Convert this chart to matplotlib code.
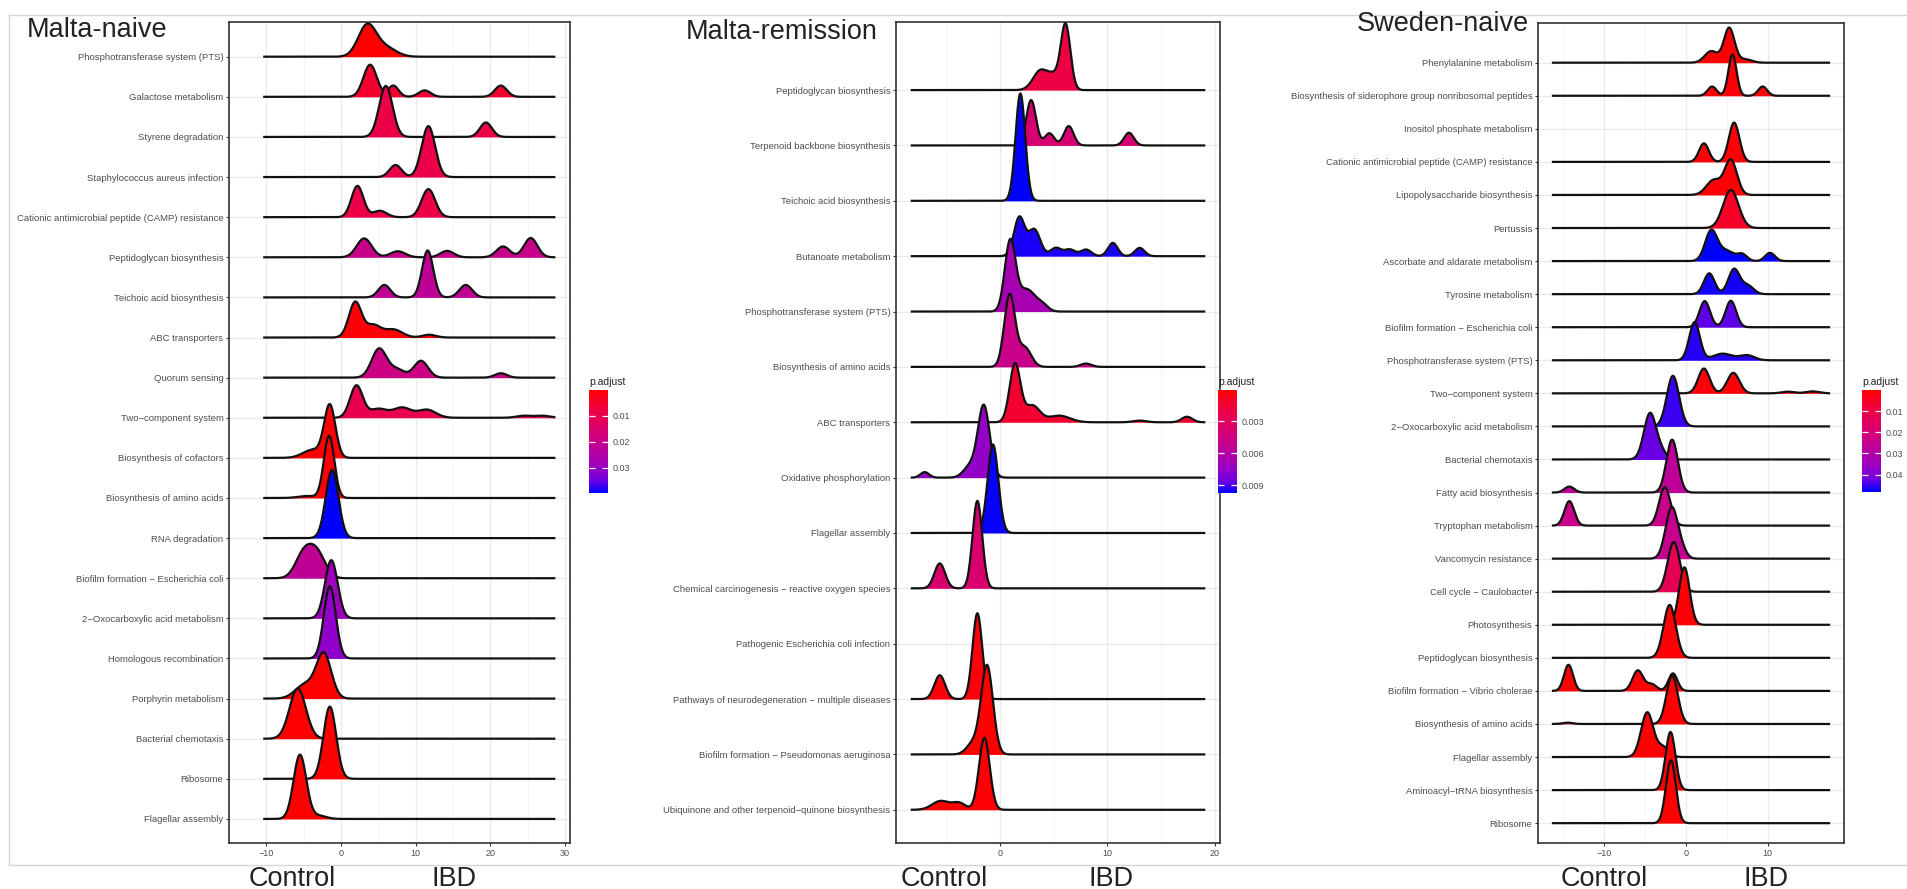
import numpy as np
import matplotlib
matplotlib.use("Agg")
import matplotlib.pyplot as plt
from matplotlib.colors import LinearSegmentedColormap, Normalize
from matplotlib.cm import ScalarMappable
from matplotlib.lines import Line2D

W, H = 1908, 889
plt.rcParams['font.family'] = ['Liberation Sans', 'DejaVu Sans']

# ---- Malta-naive -------------------------------------------------------
naive_paths = [
    "Phosphotransferase system (PTS)", "Galactose metabolism", "Styrene degradation",
    "Staphylococcus aureus infection", "Cationic antimicrobial peptide (CAMP) resistance",
    "Peptidoglycan biosynthesis", "Teichoic acid biosynthesis", "ABC transporters",
    "Quorum sensing", "Two\u2212component system", "Biosynthesis of cofactors",
    "Biosynthesis of amino acids", "RNA degradation", "Biofilm formation \u2212 Escherichia coli",
    "2\u2212Oxocarboxylic acid metabolism", "Homologous recombination", "Porphyrin metabolism",
    "Bacterial chemotaxis", "Ribosome", "Flagellar assembly",
]
naive_padj = [0.0002, 0.005, 0.0088, 0.009, 0.0085, 0.020, 0.022, 0.001, 0.019, 0.010,
              0.0008, 0.0006, 0.0398, 0.022, 0.029, 0.031, 0.0004, 0.0003, 0.0001, 0.0001]
# density modes: (log2FC, height in rows, spread)
naive_modes = [
    [(3.5, 0.78, 1.2), (6.0, 0.22, 1.4)],
    [(3.9, 0.8, 0.9), (7.0, 0.28, 0.7), (11.2, 0.16, 0.8), (21.4, 0.28, 0.8)],
    [(6.0, 1.27, 0.9), (19.4, 0.36, 0.8)],
    [(7.3, 0.3, 0.8), (11.7, 1.27, 0.9)],
    [(2.2, 0.78, 0.8), (5.2, 0.16, 0.9), (11.7, 0.7, 0.9)],
    [(3.1, 0.47, 1.0), (7.6, 0.15, 1.0), (14.2, 0.16, 0.9), (21.7, 0.27, 0.9), (25.4, 0.48, 0.9)],
    [(5.8, 0.31, 0.8), (11.6, 1.17, 0.75), (16.7, 0.31, 0.85)],
    [(1.9, 0.88, 0.85), (4.3, 0.3, 1.0), (7.0, 0.2, 1.2), (11.8, 0.07, 0.9)],
    [(5.1, 0.72, 1.0), (7.5, 0.2, 1.0), (10.7, 0.42, 0.95), (21.4, 0.11, 0.8)],
    [(2.06, 0.8, 0.85), (5.0, 0.22, 1.2), (8.2, 0.25, 1.2), (11.5, 0.2, 1.2),
     (24.5, 0.05, 1.0), (27.0, 0.05, 1.0)],
    [(-1.5, 1.3, 0.75), (-3.8, 0.2, 1.3)],
    [(-1.6, 1.55, 0.7), (-4.5, 0.05, 1.2)],
    [(-1.2, 1.7, 0.85)],
    [(-5.0, 0.6, 1.1), (-3.2, 0.6, 1.1)],
    [(-1.3, 1.45, 0.85)],
    [(-1.5, 1.8, 0.8)],
    [(-2.3, 1.1, 1.0), (-4.8, 0.35, 1.3)],
    [(-5.8, 1.25, 1.1)],
    [(-1.5, 1.8, 0.85)],
    [(-5.5, 1.6, 0.85), (-3.0, 0.08, 1.0)],
]

# ---- Malta-remission ---------------------------------------------------
remis_paths = [
    "Peptidoglycan biosynthesis", "Terpenoid backbone biosynthesis", "Teichoic acid biosynthesis",
    "Butanoate metabolism", "Phosphotransferase system (PTS)", "Biosynthesis of amino acids",
    "ABC transporters", "Oxidative phosphorylation", "Flagellar assembly",
    "Chemical carcinogenesis \u2212 reactive oxygen species", "Pathogenic Escherichia coli infection",
    "Pathways of neurodegeneration \u2212 multiple diseases",
    "Biofilm formation \u2212 Pseudomonas aeruginosa",
    "Ubiquinone and other terpenoid\u2212quinone biosynthesis",
]
remis_padj = [0.002, 0.0039, 0.0097, 0.0094, 0.0066, 0.0049, 0.0013, 0.0075, 0.0096, 0.0037,
              0.0005, 0.0004, 0.0001, 0.0002]
remis_modes = [
    [(6.1, 1.19, 0.45), (3.8, 0.36, 0.7), (5.0, 0.2, 0.5)],
    [(2.9, 0.82, 0.45), (4.6, 0.22, 0.45), (6.4, 0.35, 0.45), (12.0, 0.23, 0.45)],
    [(1.9, 1.94, 0.45)],
    [(1.8, 0.7, 0.5), (3.2, 0.48, 0.55), (5.2, 0.15, 0.5), (6.5, 0.12, 0.5), (8.0, 0.12, 0.5),
     (10.5, 0.24, 0.45), (13.0, 0.15, 0.45)],
    [(0.95, 1.25, 0.5), (2.5, 0.4, 0.8), (4.0, 0.1, 0.5)],
    [(0.9, 1.3, 0.5), (2.3, 0.35, 0.6), (8.0, 0.06, 0.5)],
    [(1.4, 1.05, 0.5), (3.0, 0.3, 0.7), (5.5, 0.12, 1.0), (13.0, 0.03, 0.6), (17.4, 0.1, 0.5)],
    [(-1.5, 1.3, 0.55), (-2.8, 0.2, 0.6), (-7.0, 0.1, 0.4)],
    [(-0.65, 1.6, 0.5)],
    [(-5.6, 0.45, 0.5), (-2.1, 1.58, 0.45)],
    [],
    [(-5.6, 0.43, 0.5), (-2.1, 1.55, 0.45)],
    [(-1.2, 1.6, 0.55), (-2.5, 0.2, 0.6)],
    [(-1.45, 1.3, 0.5), (-5.5, 0.16, 0.8), (-3.8, 0.12, 0.6)],
]

# ---- Sweden-naive ------------------------------------------------------
sweden_paths = [
    "Phenylalanine metabolism", "Biosynthesis of siderophore group nonribosomal peptides",
    "Inositol phosphate metabolism", "Cationic antimicrobial peptide (CAMP) resistance",
    "Lipopolysaccharide biosynthesis", "Pertussis", "Ascorbate and aldarate metabolism",
    "Tyrosine metabolism", "Biofilm formation \u2212 Escherichia coli",
    "Phosphotransferase system (PTS)", "Two\u2212component system",
    "2\u2212Oxocarboxylic acid metabolism", "Bacterial chemotaxis", "Fatty acid biosynthesis",
    "Tryptophan metabolism", "Vancomycin resistance", "Cell cycle \u2212 Caulobacter",
    "Photosynthesis", "Peptidoglycan biosynthesis", "Biofilm formation \u2212 Vibrio cholerae",
    "Biosynthesis of amino acids", "Flagellar assembly", "Aminoacyl\u2212tRNA biosynthesis",
    "Ribosome",
]
sweden_padj = [0.0005, 0.0008, 0.002, 0.001, 0.0008, 0.005, 0.048, 0.047, 0.043, 0.046,
               0.0012, 0.045, 0.0425, 0.027, 0.024, 0.025, 0.013, 0.001, 0.0009, 0.0007,
               0.0006, 0.0004, 0.0003, 0.0001]
sweden_modes = [
    [(5.3, 1.05, 0.65), (3.1, 0.35, 0.8), (7.3, 0.1, 0.8)],
    [(5.7, 1.25, 0.5), (3.2, 0.28, 0.55), (9.4, 0.28, 0.55)],
    [],
    [(2.2, 0.56, 0.6), (5.9, 1.19, 0.65)],
    [(5.5, 1.05, 0.75), (3.4, 0.45, 0.9)],
    [(5.5, 1.15, 0.95)],
    [(3.1, 0.92, 0.75), (5.0, 0.3, 0.9), (6.9, 0.2, 0.6), (10.3, 0.25, 0.6)],
    [(2.85, 0.63, 0.65), (5.9, 0.76, 0.7), (7.6, 0.25, 0.7)],
    [(2.3, 0.79, 0.65), (5.5, 0.8, 0.65)],
    [(1.05, 1.15, 0.65), (4.5, 0.2, 1.2), (7.5, 0.15, 0.9)],
    [(2.2, 0.75, 0.7), (5.8, 0.62, 0.75), (12.5, 0.05, 0.8), (15.5, 0.06, 0.8)],
    [(-1.6, 1.53, 0.75)],
    [(-4.4, 1.4, 0.75), (-3.0, 0.2, 0.6)],
    [(-1.7, 1.6, 0.7), (-14.3, 0.18, 0.6)],
    [(-14.3, 0.74, 0.6), (-2.6, 1.16, 0.7)],
    [(-1.75, 1.54, 0.75), (-0.5, 0.2, 0.6)],
    [(-1.5, 1.5, 0.75)],
    [(-0.2, 1.74, 0.65)],
    [(-2.0, 1.6, 0.75)],
    [(-14.4, 0.79, 0.55), (-5.9, 0.62, 0.65), (-4.2, 0.2, 0.6), (-1.6, 0.53, 0.55)],
    [(-1.7, 1.46, 0.7), (-14.5, 0.04, 0.6)],
    [(-4.75, 1.35, 0.75), (-2.8, 0.3, 0.7)],
    [(-1.9, 1.76, 0.6)],
    [(-1.85, 1.9, 0.6)],
]

CMAP = LinearSegmentedColormap.from_list("padj", [
    (0.0, "#FF0000"), (0.125, "#F40031"), (0.25, "#E80050"), (0.5, "#C90089"),
    (0.75, "#9A00C3"), (0.875, "#7300E0"), (1.0, "#0000FF")])
TXT = "#4D4D4D"


def px_axes(fig, x0, y0, x1, y1):
    return fig.add_axes([x0 / W, 1 - y1 / H, (x1 - x0) / W, (y1 - y0) / H])


def density(xs, modes):
    y = np.zeros_like(xs)
    for c, h, s in modes:
        y += h * np.exp(-0.5 * ((xs - c) / s) ** 2)
    return y


def draw_panel(fig, box, paths, padj, modes, xdata, xlim, xticks, ytop,
               cbox, cticks, clabels, title, title_xy, lab_x):
    ax = px_axes(fig, *box)
    n = len(paths)
    norm = Normalize(min(padj), max(padj))
    xs = np.linspace(xdata[0], xdata[1], 600)
    for i, (m, p) in enumerate(zip(modes, padj)):
        if not m:
            continue
        base = n - i
        d = density(xs, m)
        ax.fill_between(xs, base, base + d, color=CMAP(norm(p)), lw=0, zorder=3 + 2 * i)
        ax.plot(xs, base + d, color="#111111", lw=1.6, zorder=4 + 2 * i,
                solid_capstyle="butt")
    ax.set_xlim(*xlim)
    ax.set_ylim(0.4, n + ytop)
    ax.set_xticks(xticks)
    ax.set_xticks([t + 5 for t in xticks[:-1]] + [xticks[0] - 5], minor=True)
    ax.set_yticks(range(n, 0, -1))
    ax.set_yticklabels(paths)
    ax.set_axisbelow(True)
    ax.grid(which="major", color="#EBEBEB", lw=1.0, zorder=0)
    ax.grid(which="minor", axis="x", color="#F4F4F4", lw=0.6, zorder=0)
    for s in ax.spines.values():
        s.set_color("#333333")
        s.set_linewidth(1.2)
    ax.tick_params(axis="both", which="major", labelsize=6.8, labelcolor=TXT,
                   color="#333333", length=2.5, width=0.8, pad=1.5)
    ax.tick_params(axis="x", which="minor", length=0)
    ax.tick_params(axis="x", labelsize=6.5)

    cax = px_axes(fig, *cbox)
    cb = fig.colorbar(ScalarMappable(norm=norm, cmap=CMAP), cax=cax)
    cb.outline.set_visible(False)
    cax.invert_yaxis()
    cb.set_ticks(cticks)
    cb.set_ticklabels(clabels)
    cax.tick_params(direction="in", colors="white", length=4, width=0.9,
                    left=True, right=True, labelcolor=TXT, labelsize=6.5, pad=3)
    fig.text((cbox[0]) / W, 1 - (cbox[1] - 5) / H, "p.adjust", fontsize=7.5,
             color="#222222", ha="left", va="baseline")

    fig.text(title_xy[0] / W, 1 - title_xy[1] / H, title, fontsize=19.5,
             color="#222222", ha="left", va="baseline")
    fig.text(lab_x[0] / W, 1 - 886 / H, "Control", fontsize=19.5, color="#222222",
             ha="center", va="baseline")
    fig.text(lab_x[1] / W, 1 - 886 / H, "IBD", fontsize=19.5, color="#222222",
             ha="center", va="baseline")
    return ax


fig = plt.figure(figsize=(W / 100, H / 100), dpi=100)

# page frame lines
fig.add_artist(Line2D([9 / W, 1], [1 - 14.5 / H] * 2, color="#D6D6D6", lw=1.0))
fig.add_artist(Line2D([9 / W, 1], [1 - 865 / H] * 2, color="#D6D6D6", lw=1.0))
fig.add_artist(Line2D([9 / W, 9 / W], [1 - 14.5 / H, 1 - 865 / H], color="#D6D6D6", lw=1.0))

draw_panel(fig, (229, 22, 570, 843), naive_paths, naive_padj, naive_modes,
           (-10.42, 28.7), (-12.37, 30.66), [-10, 0, 10, 20, 30], 0.865,
           (589, 390, 608, 493), [0.01, 0.02, 0.03], ["0.01", "0.02", "0.03"],
           "Malta-naive", (27, 36.7), (292, 454))

draw_panel(fig, (896, 22, 1220, 843), remis_paths, remis_padj, remis_modes,
           (-8.3, 19.1), (-9.67, 20.47), [0, 10, 20], 1.23,
           (1218, 390, 1237, 493), [0.003, 0.006, 0.009], ["0.003", "0.006", "0.009"],
           "Malta-remission", (686, 39.3), (944, 1111))

draw_panel(fig, (1538, 22.7, 1844, 843), sweden_paths, sweden_padj, sweden_modes,
           (-16.44, 17.67), (-18.14, 19.37), [-10, 0, 10], 1.21,
           (1862, 390, 1881, 491.7), [0.01, 0.02, 0.03, 0.04],
           ["0.01", "0.02", "0.03", "0.04"],
           "Sweden-naive", (1357, 30.7), (1604.5, 1766))

fig.savefig("out.png", dpi=100)
